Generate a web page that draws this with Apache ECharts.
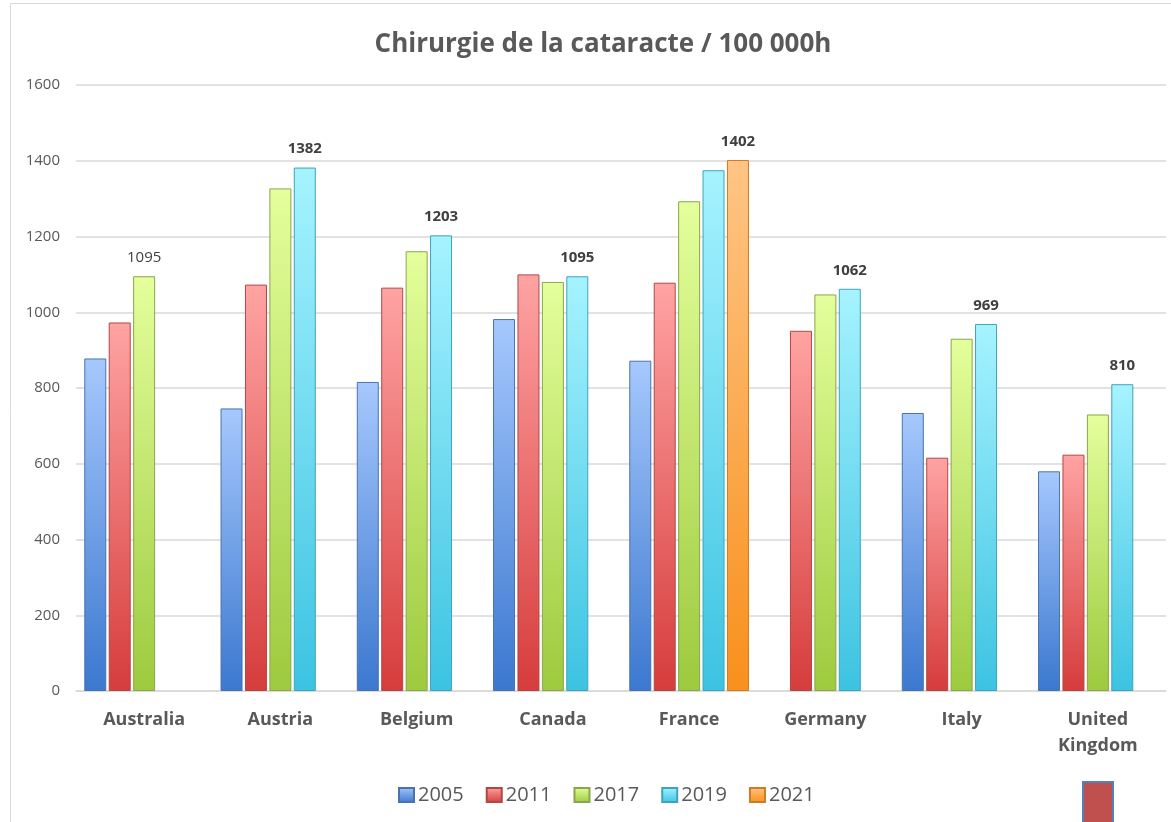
<!DOCTYPE html>
<html>
<head>
<meta charset="utf-8">
<script src="https://cdn.jsdelivr.net/npm/echarts@6/dist/echarts.min.js"></script>
<style>
  html, body { margin: 0; padding: 0; background: #fff; }
  #chart { width: 1171px; height: 822px; }
</style>
</head>
<body>
<div id="chart"></div>
<script>
'use strict';

// data
const categories = ['Australia', 'Austria', 'Belgium', 'Canada', 'France', 'Germany', 'Italy', 'United\nKingdom'];
const years = ['2005', '2011', '2017', '2019', '2021'];
const v2005 = [878, 746, 816, 982, 872, null, 734, 580];
const v2011 = [973, 1073, 1065, 1100, 1078, 951, 616, 624];
const v2017 = [1095, 1327, 1161, 1080, 1293, 1047, 930, 730];
const v2019 = [null, 1382, 1203, 1095, 1375, 1062, 969, 810];
const v2021 = [null, null, null, null, 1402, null, null, null];
const yTicks = [0, 200, 400, 600, 800, 1000, 1200, 1400, 1600];

// which points carry a value label (index into categories)
const labelled = {
    '2005': [],
    '2011': [],
    '2017': [0],
    '2019': [1, 2, 3, 5, 6, 7],
    '2021': [4]
};

const values = [v2005, v2011, v2017, v2019, v2021];

// light top / dark bottom, like the Excel bevel look
const palette = [
    {top: '#a6c8fd', bottom: '#3b78cf', border: '#4a72ad'},
    {top: '#ffa3a3', bottom: '#d63c3c', border: '#b04848'},
    {top: '#e4ff9c', bottom: '#9dca3e', border: '#8aa64a'},
    {top: '#a6f3ff', bottom: '#3cc3e2', border: '#3ea4bd'},
    {top: '#ffc585', bottom: '#f8901c', border: '#cf7b22'}
];

const font = '"Open Sans", "Liberation Sans", sans-serif';

function grad(c) {
    return {
        type: 'linear', x: 0, y: 0, x2: 0, y2: 1,
        colorStops: [
            {offset: 0, color: c.top},
            {offset: 1, color: c.bottom}
        ]
    };
}

const series = years.map((y, si) => ({
    name: y,
    type: 'bar',
    barWidth: 22,
    barGap: '11%',
    animation: false,
    itemStyle: {
        color: grad(palette[si]),
        borderColor: palette[si].border,
        borderWidth: 1
    },
    data: values[si].map((v, i) => {
        if (labelled[y].indexOf(i) < 0) {
            return v;
        }
        return {
            value: v,
            label: {
                show: true,
                position: 'top',
                distance: 11,
                color: '#404040',
                fontFamily: font,
                fontSize: 15,
                fontWeight: (y === '2017') ? 'normal' : 'bold'
            }
        };
    })
}));

const chart = echarts.init(document.getElementById('chart'), null, {renderer: 'canvas'});
chart.setOption({
    animation: false,
    backgroundColor: '#fff',
    title: {
        text: 'Chirurgie de la cataracte / 100 000h',
        left: 598,
        textAlign: 'center',
        top: 27,
        textStyle: {
            color: '#595959',
            fontFamily: font,
            fontSize: 26,
            fontWeight: 'bold'
        }
    },
    legend: {
        data: years,
        left: 393,
        top: 780,
        itemWidth: 15,
        itemHeight: 14,
        itemGap: 22,
        icon: 'rect',
        textStyle: {
            color: '#595959',
            fontFamily: font,
            fontSize: 20,
            padding: [0, 0, 0, -1]
        }
    },
    grid: {
        left: 76,
        right: 5,
        top: 85,
        bottom: 131,
        containLabel: false
    },
    xAxis: {
        type: 'category',
        data: categories,
        axisTick: {show: false},
        axisLine: {lineStyle: {color: '#d9d9d9', width: 1.5}},
        axisLabel: {
            margin: 16,
            color: '#595959',
            fontFamily: font,
            fontSize: 18,
            fontWeight: 'bold',
            lineHeight: 26,
            interval: 0
        }
    },
    yAxis: {
        type: 'value',
        min: yTicks[0],
        max: yTicks[yTicks.length - 1],
        interval: yTicks[1] - yTicks[0],
        axisLine: {show: false},
        axisTick: {show: false},
        splitLine: {lineStyle: {color: '#d9d9d9', width: 1.5}},
        axisLabel: {
            margin: 16,
            color: '#595959',
            fontFamily: font,
            fontSize: 15,
            formatter: v => String(v)
        }
    },
    graphic: [
        {
            type: 'rect',
            silent: true,
            shape: {x: 10.5, y: 3.5, width: 1200, height: 900},
            style: {fill: 'none', stroke: '#d9d9d9', lineWidth: 1}
        },
        {
            type: 'rect',
            silent: true,
            shape: {x: 1083, y: 782, width: 30, height: 50},
            style: {fill: '#c0504d', stroke: '#4f81bd', lineWidth: 2}
        }
    ],
    series: series
});
</script>
</body>
</html>
